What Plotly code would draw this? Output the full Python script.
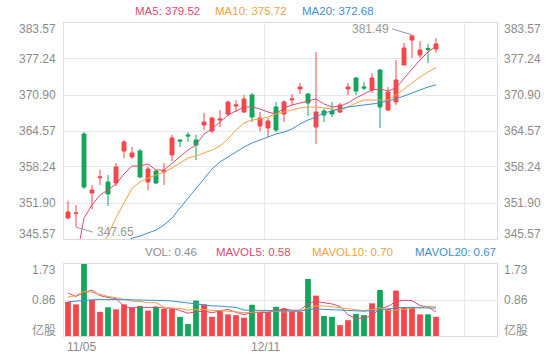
import plotly.graph_objects as go

# ---------------- data ----------------
x_tick_labels = ["11/05", "12/11"]
x_tick_index = [0, 25]

open_ = [349.26, 350.05, 364.04, 353.66, 356.35, 355.60, 355.42, 361.05, 360.00, 361.05,
         355.60, 357.53, 357.36, 360.35, 362.99, 363.87, 362.99, 365.63, 364.57, 366.50,
         367.56, 368.97, 367.91, 370.90, 365.45, 365.10, 368.79, 367.56, 370.05, 371.96,
         371.08, 365.27, 368.09, 368.09, 367.91, 371.96, 373.90, 372.31, 371.78, 375.30,
         368.26, 369.67, 376.18, 380.58, 377.94, 379.08, 378.99]
high = [352.26, 351.55, 364.39, 355.07, 357.71, 356.83, 358.94, 362.99, 361.75, 361.40,
        358.41, 357.71, 358.94, 363.87, 363.10, 364.39, 363.87, 367.74, 367.03, 368.26,
        369.85, 370.02, 370.90, 371.25, 367.91, 366.86, 369.67, 370.02, 371.08, 373.01,
        371.25, 378.47, 368.44, 369.67, 369.50, 373.01, 374.07, 373.19, 374.77, 375.48,
        372.31, 377.06, 380.05, 381.49, 380.40, 379.88, 380.93]
low = [349.09, 347.65, 354.37, 350.85, 355.07, 351.38, 354.89, 359.82, 359.64, 356.30,
       354.19, 355.25, 355.07, 359.29, 361.75, 362.64, 359.47, 364.75, 364.22, 365.27,
       367.21, 367.91, 367.74, 366.15, 364.57, 363.51, 364.39, 366.15, 369.15, 371.08,
       367.21, 362.28, 366.15, 367.03, 367.74, 370.90, 370.90, 371.78, 371.25, 365.10,
       368.09, 369.15, 376.18, 377.41, 377.41, 376.53, 378.29]
close = [350.32, 350.14, 354.72, 354.19, 356.48, 353.49, 358.24, 362.64, 360.70, 356.48,
         357.88, 355.42, 357.58, 363.34, 362.81, 363.70, 362.11, 366.15, 366.86, 366.68,
         369.67, 369.15, 370.20, 367.03, 366.86, 366.33, 364.75, 369.67, 370.20, 372.31,
         369.50, 367.91, 367.39, 367.56, 369.15, 372.31, 371.61, 372.13, 373.90, 368.79,
         371.43, 373.54, 379.17, 381.28, 378.82, 378.90, 379.88]

ma5 = [341.0, 341.6, 349.26, 351.55, 353.3, 354.19, 355.25, 357.0, 358.41, 358.41,
       358.76, 357.71, 357.71, 358.94, 360.0, 361.23, 362.11, 364.04, 364.92, 366.15,
       367.39, 368.09, 368.79, 368.79, 368.44, 367.91, 367.56, 368.62, 369.15, 369.5,
       369.85, 370.2, 369.32, 368.79, 368.97, 369.5, 370.38, 371.08, 371.78, 371.96,
       371.61, 372.13, 373.9, 375.48, 377.06, 378.47, 379.52]
ma10 = [340.5, 341.5, 342.5, 343.0, 343.6, 346.3, 349.3, 351.9, 354.5, 355.6,
        356.3, 356.83, 357.36, 358.06, 358.94, 359.82, 360.17, 360.7, 361.23, 361.93,
        363.16, 364.74, 365.98, 366.5, 366.68, 367.03, 367.56, 367.91, 368.26, 368.62,
        368.79, 368.79, 368.62, 368.44, 368.26, 368.79, 369.5, 370.02, 370.02, 370.02,
        370.02, 370.9, 371.96, 373.01, 374.07, 374.95, 375.72]
ma20 = [337.0, 338.0, 339.0, 340.0, 341.0, 342.0, 343.0, 345.0, 345.7, 346.1,
        346.62, 347.15, 348.03, 349.26, 351.02, 352.78, 354.54, 356.3, 357.88, 359.12,
        359.99, 360.88, 361.75, 362.46, 362.99, 363.51, 364.04, 364.39, 364.92, 365.8,
        366.5, 367.03, 367.74, 368.09, 368.44, 368.79, 368.97, 369.15, 369.32, 369.5,
        369.85, 370.2, 370.73, 371.25, 371.78, 372.31, 372.68]

volume = [0.82, 0.76, 1.73, 0.865, 0.58, 0.69, 0.64, 0.76, 0.69, 0.72,
          0.61, 0.70, 0.65, 0.65, 0.46, 0.29, 0.85, 0.76, 0.46, 0.625,
          0.52, 0.50, 0.44, 0.75, 0.57, 0.58, 0.70, 0.665, 0.58, 0.58,
          1.37, 0.97, 0.48, 0.46, 0.26, 0.38, 0.53, 0.50, 0.785, 1.105,
          0.65, 1.09, 0.69, 0.70, 0.52, 0.52, 0.46]
mavol5 = [1.03, 0.95, 1.05, 1.10, 0.97, 0.925, 0.90, 0.71, 0.67, 0.70,
          0.68, 0.70, 0.67, 0.67, 0.61, 0.55, 0.58, 0.60, 0.56, 0.60,
          0.64, 0.57, 0.51, 0.57, 0.56, 0.57, 0.61, 0.65, 0.62, 0.62,
          0.78, 0.83, 0.80, 0.77, 0.71, 0.51, 0.42, 0.43, 0.49, 0.66,
          0.71, 0.83, 0.86, 0.85, 0.73, 0.70, 0.58]
mavol10 = [0.94, 0.97, 1.07, 1.05, 1.00, 0.95, 0.92, 0.88, 0.84, 0.83,
           0.80, 0.80, 0.69, 0.67, 0.66, 0.62, 0.64, 0.64, 0.615, 0.61,
           0.60, 0.58, 0.56, 0.57, 0.58, 0.61, 0.59, 0.58, 0.59, 0.59,
           0.67, 0.72, 0.725, 0.70, 0.665, 0.645, 0.63, 0.61, 0.63, 0.68,
           0.61, 0.62, 0.645, 0.67, 0.695, 0.71, 0.70]
mavol20 = [0.82, 0.84, 0.86, 0.87, 0.88, 0.88, 0.87, 0.87, 0.865, 0.865,
           0.86, 0.86, 0.85, 0.84, 0.815, 0.795, 0.775, 0.75, 0.725, 0.716,
           0.70, 0.688, 0.623, 0.617, 0.617, 0.611, 0.614, 0.61, 0.604, 0.597,
           0.635, 0.649, 0.64, 0.63, 0.62, 0.625, 0.609, 0.596, 0.612, 0.636,
           0.643, 0.672, 0.685, 0.682, 0.68, 0.677, 0.67]

price_ticks = [345.57, 351.90, 358.24, 364.57, 370.90, 377.24, 383.57]
vol_ticks = [0.0, 0.86, 1.73]
vol_tick_text = ["亿股", "0.86", "1.73"]

legend_main = [("MA5", 379.52), ("MA10", 375.72), ("MA20", 372.68)]
legend_vol = [("VOL", 0.46), ("MAVOL5", 0.58), ("MAVOL10", 0.70), ("MAVOL20", 0.67)]

# ---------------- styling ----------------
RED = "#f5474b"
GREEN = "#13a55a"
C5 = "#dd4a72"
C10 = "#f2a143"
C20 = "#3d8fd2"
GRAY = "#8c8c8c"
GRID = "#e8e8e8"
BORDER = "#dcdcdc"
FONT = "Liberation Sans, Arial, Noto Sans CJK SC, sans-serif"

W, H = 560, 360
ML, MR, MT, MB = 64, 63, 23, 24
plot_h = H - MT - MB
main_bottom_px = 239
vol_top_px = 264
main_dom = [(H - MB - main_bottom_px) / plot_h, 1.0]
vol_dom = [0.0, (H - MB - vol_top_px) / plot_h]

n = len(close)
idx = list(range(n))
slot_px = 8.0
x_range = [-0.5, -0.5 + (W - ML - MR) / slot_px]

fig = go.Figure()

fig.add_trace(go.Candlestick(
    x=idx, open=open_, high=high, low=low, close=close,
    increasing=dict(line=dict(color=RED, width=1), fillcolor=RED),
    decreasing=dict(line=dict(color=GREEN, width=1), fillcolor=GREEN),
    whiskerwidth=0, xaxis="x", yaxis="y", showlegend=False, hoverinfo="skip"))

for arr, col in [(ma5, C5), (ma10, C10), (ma20, C20)]:
    fig.add_trace(go.Scatter(x=idx, y=arr, mode="lines", line=dict(color=col, width=1),
                             xaxis="x", yaxis="y", showlegend=False, hoverinfo="skip"))

bar_colors = [RED if c >= o else GREEN for o, c in zip(open_, close)]
fig.add_trace(go.Bar(x=idx, y=volume, marker=dict(color=bar_colors, line=dict(width=0)),
                     width=0.72, xaxis="x2", yaxis="y2", showlegend=False, hoverinfo="skip"))
for arr, col in [(mavol5, C5), (mavol10, C10), (mavol20, C20)]:
    fig.add_trace(go.Scatter(x=idx, y=arr, mode="lines", line=dict(color=col, width=1),
                             xaxis="x2", yaxis="y2", showlegend=False, hoverinfo="skip"))

grid_x = [24.5, 49.5]
axis_common = dict(showline=True, mirror=True, linecolor=BORDER, linewidth=1,
                   zeroline=False, ticks="", showticklabels=False)

fig.update_layout(
    width=W, height=H, margin=dict(l=ML, r=MR, t=MT, b=MB, pad=0),
    paper_bgcolor="white", plot_bgcolor="white",
    font=dict(family=FONT, size=12, color=GRAY),
    boxgap=0.3,
    xaxis=dict(domain=[0, 1], range=x_range, anchor="y", tickvals=grid_x,
               showgrid=True, gridcolor=GRID, rangeslider=dict(visible=False), **axis_common),
    yaxis=dict(domain=main_dom, range=[price_ticks[0], price_ticks[-1]], anchor="x",
               tickvals=price_ticks, showgrid=True, gridcolor=GRID, **axis_common),
    xaxis2=dict(domain=[0, 1], range=x_range, anchor="y2", tickvals=grid_x,
                showgrid=True, gridcolor=GRID, **axis_common),
    yaxis2=dict(domain=vol_dom, range=[vol_ticks[0], vol_ticks[-1]], anchor="x2",
                tickvals=vol_ticks, showgrid=True, gridcolor=GRID, **axis_common),
)

ann = []
# price axis labels (both sides)
for i, v in enumerate(price_ticks):
    ys = 0
    if i == len(price_ticks) - 1:
        ys = -6
    elif i == 0:
        ys = 5
    txt = f"{v:.2f}"
    ann.append(dict(xref="paper", yref="y", x=0, y=v, xanchor="right", yanchor="middle",
                    xshift=-6, yshift=ys, text=txt, showarrow=False,
                    font=dict(size=12, color=GRAY)))
    ann.append(dict(xref="paper", yref="y", x=1, y=v, xanchor="left", yanchor="middle",
                    xshift=5, yshift=ys, text=txt, showarrow=False,
                    font=dict(size=12, color=GRAY)))
# volume axis labels
for v, t in zip(vol_ticks, vol_tick_text):
    ys = 0
    if v == vol_ticks[-1]:
        ys = -6
    elif v == vol_ticks[0]:
        ys = 6
    ann.append(dict(xref="paper", yref="y2", x=0, y=v, xanchor="right", yanchor="middle",
                    xshift=-6, yshift=ys, text=t, showarrow=False,
                    font=dict(size=12, color=GRAY)))
    ann.append(dict(xref="paper", yref="y2", x=1, y=v, xanchor="left", yanchor="middle",
                    xshift=5, yshift=ys, text=t, showarrow=False,
                    font=dict(size=12, color=GRAY)))
# x labels
ann.append(dict(xref="paper", yref="paper", x=0, y=0, xanchor="left", yanchor="middle",
                xshift=1, yshift=-11, text=x_tick_labels[0], showarrow=False,
                font=dict(size=12, color=GRAY)))
ann.append(dict(xref="x2", yref="paper", x=x_tick_index[1] - 0.5, y=0, xanchor="center",
                yanchor="middle", xshift=1, yshift=-11, text=x_tick_labels[1], showarrow=False,
                font=dict(size=12, color=GRAY)))

# legends
main_leg_x = [133, 213, 300]
for (name, val), px, col in zip(legend_main, main_leg_x, [C5, C10, C20]):
    ann.append(dict(xref="paper", yref="paper", x=0, y=1, xanchor="left", yanchor="middle",
                    xshift=px - ML, yshift=MT - 10.5, text=f"{name}: {val:.2f}",
                    showarrow=False, font=dict(size=11.5, color=col)))
vol_leg_x = [143, 214, 310, 413]
for (name, val), px, col in zip(legend_vol, vol_leg_x, [GRAY, C5, C10, C20]):
    ann.append(dict(xref="paper", yref="paper", x=0, y=vol_dom[1], xanchor="left",
                    yanchor="middle", xshift=px - ML, yshift=vol_top_px - 251.5,
                    text=f"{name}: {val:.2f}", showarrow=False,
                    font=dict(size=11.5, color=col)))

# max / min markers
imax = max(idx, key=lambda k: high[k])
imin = min(idx, key=lambda k: low[k])
ann.append(dict(xref="x", yref="y", x=imax, y=high[imax], xanchor="right", yanchor="middle",
                xshift=-21, yshift=6, text=f"{high[imax]:.2f}", showarrow=False,
                font=dict(size=12, color="#999999")))
ann.append(dict(xref="x", yref="y", x=imin, y=low[imin], xanchor="left", yanchor="middle",
                xshift=19, yshift=-5, text=f"{low[imin]:.2f}", showarrow=False,
                font=dict(size=12, color="#999999")))
fig.update_layout(annotations=ann)

shapes = [
    dict(type="line", xref="x", yref="y", xsizemode="pixel", ysizemode="pixel",
         xanchor=imax, yanchor=high[imax], x0=0, x1=-20, y0=0, y1=6,
         line=dict(color="#999999", width=1)),
    dict(type="line", xref="x", yref="y", xsizemode="pixel", ysizemode="pixel",
         xanchor=imin, yanchor=low[imin], x0=0, x1=17, y0=0, y1=-5,
         line=dict(color="#999999", width=1)),
]
fig.update_layout(shapes=shapes)

fig.write_html("out.html")
